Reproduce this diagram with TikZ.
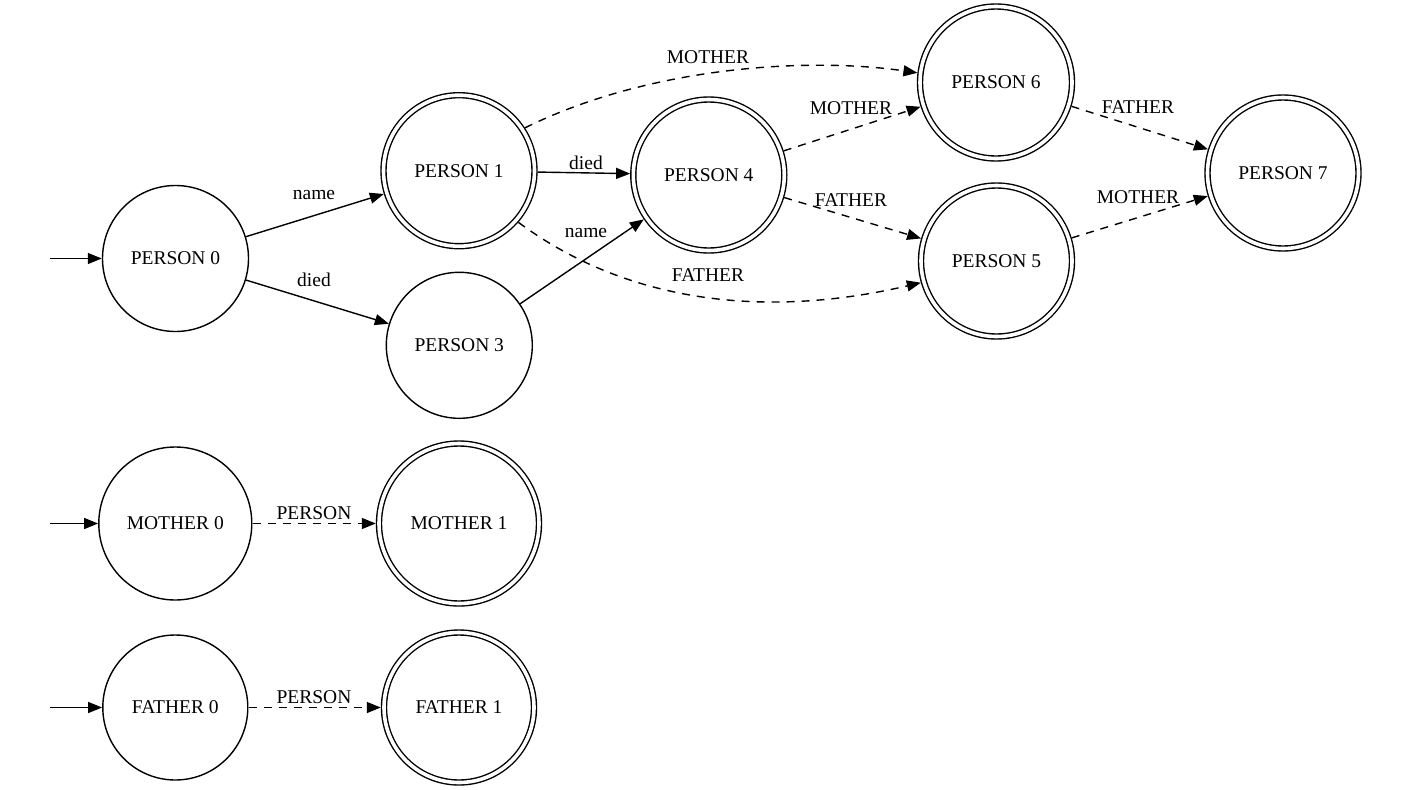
\documentclass[tikz,border=0pt]{standalone}
\usepackage{fontspec}
\setmainfont{Liberation Serif}
\usetikzlibrary{arrows.meta}
\begin{document}
\begin{tikzpicture}[x=1pt,y=1pt,
  state/.style={circle, draw, line width=1.4pt, inner sep=0pt, font=\fontsize{19.5}{23}\selectfont},
  accept/.style={state, double, double distance=3.6pt, outer sep=3.2pt},
  edge/.style={line width=1.4pt, -{Triangle[length=14pt,width=11pt]}},
  dashedge/.style={edge, dash pattern=on 8pt off 7pt},
  lbl/.style={inner sep=0pt, anchor=center, font=\fontsize{19.5}{23}\selectfont}]
\useasboundingbox (0,0) rectangle (1409,-790);

\node[state, minimum size=146pt] (p0) at (175.5,-258.5) {PERSON 0};
\node[accept, minimum size=151pt] (p1) at (459,-170.7) {PERSON 1};
\node[state, minimum size=146pt] (p3) at (459.3,-345.3) {PERSON 3};
\node[accept, minimum size=151pt] (p4) at (708.8,-175) {PERSON 4};
\node[accept, minimum size=152pt] (p6) at (996,-82.5) {PERSON 6};
\node[accept, minimum size=151pt] (p5) at (996.5,-261) {PERSON 5};
\node[accept, minimum size=151pt] (p7) at (1283,-173) {PERSON 7};
\node[state, minimum size=153pt] (m0) at (175.3,-523.5) {MOTHER 0};
\node[accept, minimum size=160pt] (m1) at (459,-523.5) {MOTHER 1};
\node[state, minimum size=145pt] (f0) at (175.3,-707.5) {FATHER 0};
\node[accept, minimum size=150pt] (f1) at (459,-707.5) {FATHER 1};

\coordinate (s0) at (50,-258.5);
\coordinate (sm) at (50,-523.5);
\coordinate (sf) at (50,-707.5);
\draw[edge] (s0) -- (p0);
\draw[edge] (sm) -- (m0);
\draw[edge] (sf) -- (f0);

\draw[edge] (p0) -- (p1) node[lbl] at (314,-195) {name};
\draw[edge] (p0) -- (p3) node[lbl] at (314,-280) {died};
\draw[edge] (p1) -- (p4) node[lbl] at (586,-163) {died};
\draw[edge] (p3) -- (p4) node[lbl] at (586,-233) {name};
\draw[dashedge] (p1.33) .. controls (650,-66) and (810,-57) .. (p6.173)
  node[lbl] at (708,-57) {MOTHER};
\draw[dashedge] (p1.-41) .. controls (630,-305) and (770,-318) .. (p5.196)
  node[lbl] at (708,-275) {FATHER};
\draw[dashedge] (p4) -- (p6) node[lbl] at (851,-108) {MOTHER};
\draw[dashedge] (p4) -- (p5) node[lbl] at (851,-200) {FATHER};
\draw[dashedge] (p6) -- (p7) node[lbl] at (1138,-107) {FATHER};
\draw[dashedge] (p5) -- (p7) node[lbl] at (1138,-197) {MOTHER};
\draw[dashedge] (m0) -- (m1) node[lbl] at (314,-513) {PERSON};
\draw[dashedge] (f0) -- (f1) node[lbl] at (314,-697) {PERSON};
\end{tikzpicture}
\end{document}
